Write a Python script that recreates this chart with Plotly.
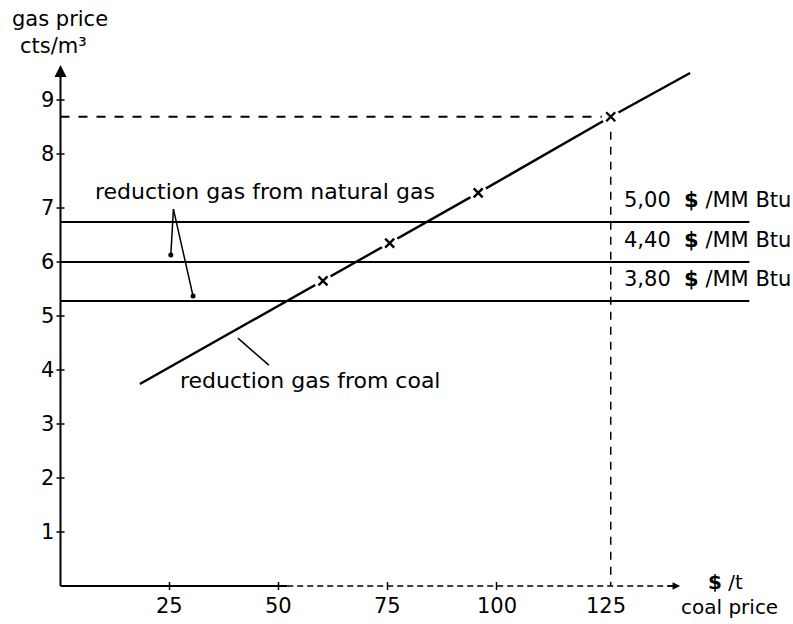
import plotly.graph_objects as go

# ---------------- data ----------------
y_ticks = [1, 2, 3, 4, 5, 6, 7, 8, 9]
x_ticks = [25, 50, 75, 100, 125]
x_tick_marks = [25, 50, 75, 100]

nat_gas_prices = [6.74, 6.00, 5.28]            # cts/m3
nat_gas_labels = ["5,00  <b>$</b> /MM Btu", "4,40  <b>$</b> /MM Btu", "3,80  <b>$</b> /MM Btu"]

coal_x = [18.2, 60.2, 75.5, 95.8, 126.2, 144.4]   # $/t
coal_y = [3.74, 5.65, 6.35, 7.28, 8.69, 9.50]     # cts/m3
marker_idx = [1, 2, 3, 4]

ref_coal_price = 126.2
ref_gas_price = 8.69

x_arrow_end = 142.1
y_arrow_end = 9.65
hline_end = 158.0

# ---------------- layout constants ----------------
PX_X = 4.36   # px per $/t
ORG_X = 60.5
PX_Y = 54.0   # px per ct
ORG_Y = 586.0
W, H = 793, 624
xr = [-ORG_X / PX_X, (W - ORG_X) / PX_X]
yr = [(ORG_Y - H) / PX_Y, ORG_Y / PX_Y]
dx = 1.0 / PX_X
dy = 1.0 / PX_Y

FONT = "DejaVu Sans"
BLK = "black"

fig = go.Figure()

def seg(x, y, width=2, dash="solid", color=BLK):
    fig.add_trace(go.Scatter(x=x, y=y, mode="lines",
                             line=dict(color=color, width=width, dash=dash),
                             hoverinfo="skip"))

# axes
seg([0, 0], [0, y_arrow_end - 8 * dy], width=2)
seg([0, 52], [0, 0], width=2)
seg([52, x_arrow_end - 6 * dx], [0, 0], width=1.3, dash="6px,4px")

# tick marks
tx, ty = [], []
for v in y_ticks:
    tx += [-4 * dx, 4 * dx, None]
    ty += [v, v, None]
seg(tx, ty, width=1.5)
tx, ty = [], []
for v in x_tick_marks:
    tx += [v, v, None]
    ty += [-4 * dy, 4 * dy, None]
seg(tx, ty, width=1.5)

# natural gas horizontal lines
for p in nat_gas_prices:
    seg([0, hline_end], [p, p], width=2)

# dashed reference lines
seg([0, ref_coal_price], [ref_gas_price, ref_gas_price], width=1.8, dash="9px,9px")
seg([ref_coal_price, ref_coal_price], [ref_gas_price, 0], width=1.5, dash="8px,7px")

# coal line
seg(coal_x, coal_y, width=2.4)
mx = [coal_x[i] for i in marker_idx]
my = [coal_y[i] for i in marker_idx]
fig.add_trace(go.Scatter(x=mx, y=my, mode="markers",
                         marker=dict(symbol="circle", size=18, color="white",
                                     line=dict(width=0)), hoverinfo="skip"))
fig.add_trace(go.Scatter(x=mx, y=my, mode="markers",
                         marker=dict(symbol="x-thin", size=9, color=BLK,
                                     line=dict(width=2.4, color=BLK)), hoverinfo="skip"))

# leader lines for "natural gas" label
lead_top_x = 25.9
lead_top_y = 6.98
lead_ends_x = [25.3, 30.4]
lead_ends_y = [6.13, 5.37]
for ex, ey in zip(lead_ends_x, lead_ends_y):
    seg([lead_top_x, ex], [lead_top_y, ey], width=1.5)
fig.add_trace(go.Scatter(x=lead_ends_x, y=lead_ends_y, mode="markers",
                         marker=dict(size=5, color=BLK), hoverinfo="skip"))

# leader line for "coal" label
seg([40.7, 47.8], [4.59, 4.09], width=1.5)

ann = []
# axis arrowheads
ann.append(dict(x=0, y=y_arrow_end, ax=0, ay=y_arrow_end - 14 * dy, xref="x", yref="y",
                axref="x", ayref="y", showarrow=True, arrowhead=2, arrowsize=1.2,
                arrowwidth=2, arrowcolor=BLK, text=""))
ann.append(dict(x=x_arrow_end, y=0, ax=x_arrow_end - 14 * dx, ay=0, xref="x", yref="y",
                axref="x", ayref="y", showarrow=True, arrowhead=2, arrowsize=1.0,
                arrowwidth=1.5, arrowcolor=BLK, text=""))

# tick labels
for v in y_ticks:
    ann.append(dict(x=-5 * dx, y=v, text=str(v), showarrow=False, xanchor="right",
                    yanchor="middle", font=dict(family=FONT, size=21, color=BLK)))
for v in x_ticks:
    ann.append(dict(x=v, y=-20 * dy, text=str(v), showarrow=False, xanchor="center",
                    yanchor="middle", font=dict(family=FONT, size=21, color=BLK)))

# natural gas price labels
for p, lab in zip(nat_gas_prices, nat_gas_labels):
    ann.append(dict(x=128.8, y=p, yshift=22, text=lab, showarrow=False, xanchor="left",
                    yanchor="middle", font=dict(family=FONT, size=21, color=BLK)))

# curve labels
ann.append(dict(x=7.45, y=7.30, text="reduction gas from natural gas", showarrow=False,
                xanchor="left", yanchor="middle", font=dict(family=FONT, size=22, color=BLK)))
ann.append(dict(x=26.9, y=3.81, text="reduction gas from coal", showarrow=False,
                xanchor="left", yanchor="middle", font=dict(family=FONT, size=22, color=BLK)))

# axis titles
ann.append(dict(x=-0.1, y=10.50, text="gas price", showarrow=False, xanchor="center",
                yanchor="middle", font=dict(family=FONT, size=21, color=BLK)))
ann.append(dict(x=-1.7, y=10.0, text="cts/m³", showarrow=False, xanchor="center",
                yanchor="middle", font=dict(family=FONT, size=21, color=BLK)))
ann.append(dict(x=152.5, y=0.074, text="<b>$</b> /t", showarrow=False, xanchor="center",
                yanchor="middle", font=dict(family=FONT, size=20, color=BLK)))
ann.append(dict(x=153.5, y=-0.39, text="coal price", showarrow=False, xanchor="center",
                yanchor="middle", font=dict(family=FONT, size=20, color=BLK)))

fig.update_layout(width=W, height=H, margin=dict(l=0, r=0, t=0, b=0),
                  paper_bgcolor="white", plot_bgcolor="white", showlegend=False,
                  xaxis=dict(range=xr, visible=False, fixedrange=True),
                  yaxis=dict(range=yr, visible=False, fixedrange=True),
                  annotations=ann)

fig.write_html("out.html", config={"displayModeBar": False, "staticPlot": True},
               post_script="document.body.style.margin='0';document.body.style.overflow='hidden';")
